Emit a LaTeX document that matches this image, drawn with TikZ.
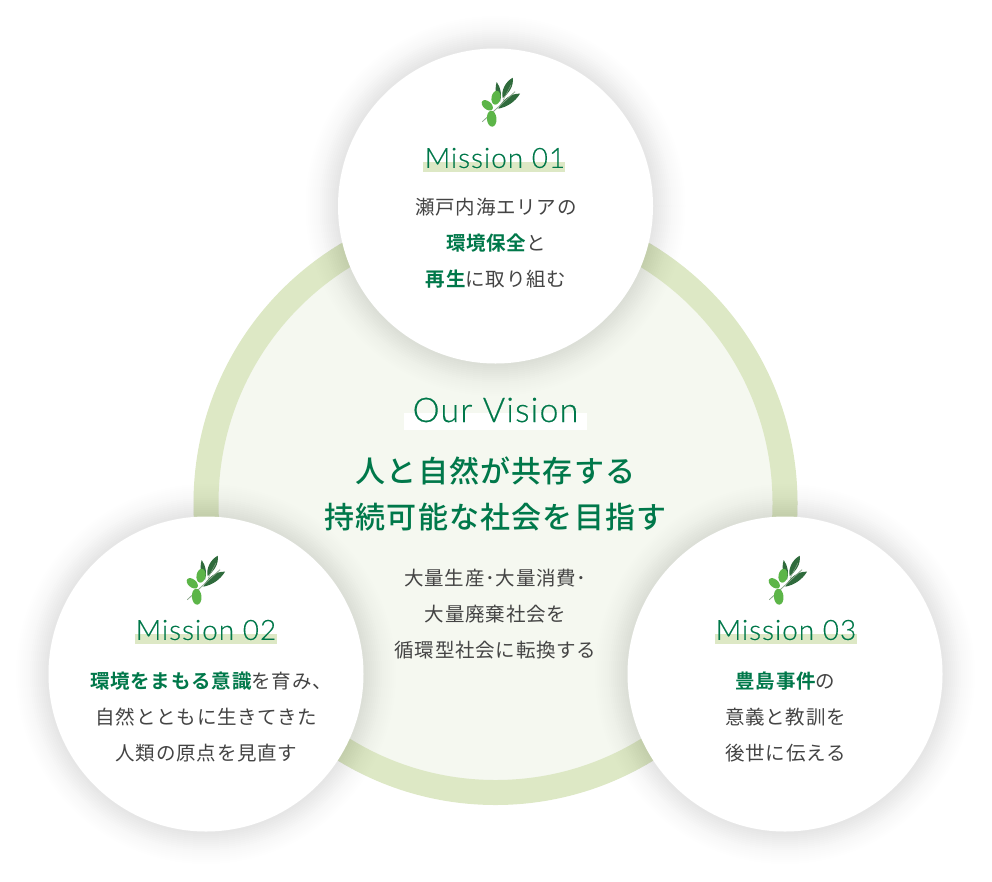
\documentclass[tikz,border=0pt]{standalone}
\usepackage{fontspec}
\usepackage{xcolor}
\setmainfont{Noto Sans CJK JP}[LetterSpace=4]
\newfontfamily\jpbold{Noto Sans CJK JP Bold}[LetterSpace=4]
\newfontfamily\headfont{Noto Sans CJK JP Medium}[LetterSpace=4]
\newfontfamily\latinfont{Lato Light}[LetterSpace=3.5,FakeBold=.3]
\definecolor{ring}{HTML}{DDE8C5}
\definecolor{inner}{HTML}{F5F8F0}
\definecolor{vgreen}{HTML}{00784A}
\definecolor{bodygrey}{HTML}{444444}
\definecolor{leafdark}{HTML}{2F6B3C}
\definecolor{leaflight}{HTML}{8AA58A}
\definecolor{olive}{HTML}{5CB548}
\newcommand{\hl}[1]{{\jpbold\color{vgreen}#1}}
\tikzset{
  olive sprig/.pic={
    \fill[leafdark] (-3.3,-18) .. controls (-6,-9) and (-3,-2) .. (0,2) .. controls (2,-5) and (1,-12) .. (-3.3,-18);
    \fill[leafdark] (12.7,-22.3) .. controls (5,-18) and (1,-9) .. (2.7,-2) .. controls (9,-7) and (14,-14) .. (12.7,-22.3);
    \fill[leafdark] (20,-6.3) .. controls (11,-7) and (2,0) .. (-1.7,8.7) .. controls (7,7) and (15,2) .. (20,-6.3);
    \draw[leaflight,line width=.8pt] (-17.7,21.7) -- (15,-8.3);
    \draw[leaflight,line width=.5pt] (3,0.5) -- (11,-15);
    \fill[olive] (-4,-2.3) ellipse [x radius=4.5,y radius=7,rotate=-10];
    \fill[olive] (-12.7,5.3) ellipse [x radius=6.5,y radius=4,rotate=-40];
    \fill[olive] (-8.3,18.7) ellipse [x radius=4.8,y radius=8,rotate=5];
  }
}
\begin{document}
\begin{tikzpicture}[x=1pt,y=-1pt,
   mission circle/.style={circle,fill=white,inner sep=0pt,minimum size=315pt},
   vision ring/.style={circle,fill=inner,draw=ring,line width=25pt,inner sep=0pt,minimum size=579pt},
   mission title/.style={font=\fontsize{28}{28}\latinfont,text=vgreen,inner sep=0pt},
   mission bar/.style={fill=ring,inner sep=0pt,minimum width=142pt,minimum height=10pt},
   mission text/.style={font=\fontsize{19.5}{36}\selectfont,text=bodygrey,align=center,inner sep=0pt},
   vision head/.style={font=\fontsize{30}{46}\headfont,text=vgreen,align=center,inner sep=0pt}]

  \useasboundingbox (0,0) rectangle (992,881);
  \node[vision ring](vision) at (495.5,503) {};

  % soft shadows under the three missions
  \foreach \cx/\cy in {495.5/206,206/674,785/674}{
    \foreach \r in {160,162,...,190}
      \fill[black,opacity=.004] (\cx,\cy) circle [radius=\r];
    \foreach \r in {160,162,...,176}
      \fill[black,opacity=.004] (\cx,\cy) circle [radius=\r];
  }

  \node[mission circle](mone) at (495.5,206) {};
  \node[mission circle](mtwo) at (206,674) {};
  \node[mission circle](mthree) at (785,674) {};

  \pic at (500,100) {olive sprig};
  \pic at (205,578) {olive sprig};
  \pic at (787,578) {olive sprig};

  \node[mission bar](barone) at (494,167) {};
  \node[mission bar](bartwo) at (206,639) {};
  \node[mission bar](barthree) at (786,639) {};
  \node[mission title](titleone) at (495,158) {Mission 01};
  \node[mission title](titletwo) at (206,630) {Mission 02};
  \node[mission title](titlethree) at (786,630) {Mission 03};

  \node[mission text](textone) at (496,243.5) {瀬戸内海エリアの\\\hl{環境保全}と\\\hl{再生}に取り組む};
  \node[mission text](texttwo) at (206.5,717) {\hspace*{9pt}\hl{環境をまもる意識}を育み、\\自然とともに生きてきた\\人類の原点を見直す};
  \node[mission text](textthree) at (785.5,717) {\hl{豊島事件}の\\意義と教訓を\\後世に伝える};

  \node[fill=white,minimum width=183pt,minimum height=17pt,inner sep=0pt](visionbar) at (495.5,421.5) {};
  \node[mission title,font=\fontsize{34}{34}\latinfont](visiontitle) at (495.5,410) {Our Vision};
  \node[vision head](visionhead) at (495.5,494) {人と自然が共存する\\持続可能な社会を目指す};
  \node[mission text](visiontext) at (495.5,614) {大量生産･大量消費･\\大量廃棄社会を\\循環型社会に転換する};
\end{tikzpicture}
\end{document}
